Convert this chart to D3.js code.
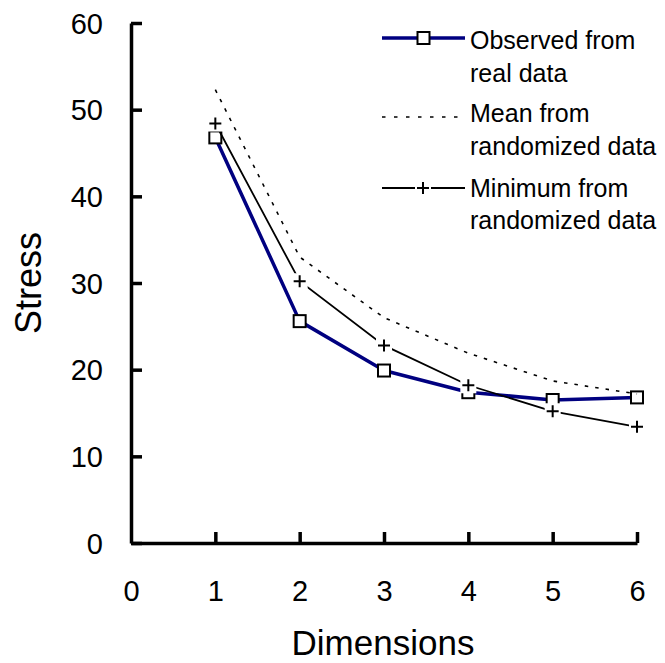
<!DOCTYPE html>
<html>
<head>
<meta charset="utf-8">
<script src="https://cdn.jsdelivr.net/npm/d3@7"></script>
<style>
  html, body { margin: 0; padding: 0; background: #fff; }
  svg { display: block; font-family: "Liberation Sans", Arial, sans-serif; }
</style>
</head>
<body>
<svg id="chart" width="665" height="663"></svg>
<script>
const dimensions = [1, 2, 3, 4, 5, 6];
const observed = [46.8, 25.6, 19.9, 17.4, 16.5, 16.8];
const meanRandom = [52.3, 33.0, 26.0, 21.9, 18.7, 17.2];
const minRandom = [48.4, 30.2, 22.8, 18.2, 15.2, 13.4];
const xTicks = [0, 1, 2, 3, 4, 5, 6];
const yTicks = [0, 10, 20, 30, 40, 50, 60];
const legendLabels = [["Observed from", "real data"], ["Mean from", "randomized data"], ["Minimum from", "randomized data"]];

const svg = d3.select("#chart");
const x = d3.scaleLinear().domain([0, 6]).range([131, 637]);
const y = d3.scaleLinear().domain([0, 60]).range([543, 23]);

// Axes
const yAxis = d3.axisLeft(y).tickValues(yTicks).tickFormat(d3.format("d")).tickSize(-11).tickSizeOuter(0);
const xAxis = d3.axisBottom(x).tickValues(xTicks).tickFormat(d3.format("d")).tickSize(-11).tickSizeOuter(0);

const gy = svg.append("g").attr("transform", `translate(${x(0)},0)`).call(yAxis);
const gx = svg.append("g").attr("transform", `translate(0,${y(0)})`).call(xAxis);
[gx, gy].forEach(g => {
  g.select(".domain").attr("stroke", "#000").attr("stroke-width", 3.5);
  g.selectAll(".tick line").attr("stroke", "#000").attr("stroke-width", 3.5);
  g.selectAll(".tick text").attr("fill", "#000").attr("font-size", 29)
    .attr("font-family", "Liberation Sans, Arial, sans-serif");
});
gy.selectAll(".tick text").attr("x", -28).attr("dy", "0.35em");
gx.selectAll(".tick text").attr("y", 0).attr("dy", 0).attr("transform", "translate(0,58)");
gx.selectAll(".tick").filter(d => d === 0).select("line").remove();

const idx = d3.range(dimensions.length);
const line = arr => d3.line().x(i => x(dimensions[i])).y(i => y(arr[i]))(idx);

// Observed series
svg.append("path").attr("d", line(observed)).attr("fill", "none")
  .attr("stroke", "#000080").attr("stroke-width", 3.5).attr("stroke-linejoin", "round");
svg.selectAll(".sq").data(idx).enter().append("rect")
  .attr("x", i => x(dimensions[i]) - 6).attr("y", i => y(observed[i]) - 6)
  .attr("width", 12).attr("height", 12)
  .attr("fill", "#fff").attr("stroke", "#000").attr("stroke-width", 2);

// Mean series (dotted)
svg.append("path").attr("d", line(meanRandom)).attr("fill", "none")
  .attr("stroke", "#000").attr("stroke-width", 1.6).attr("stroke-dasharray", "3.5,7");

// Minimum series
svg.append("path").attr("d", line(minRandom)).attr("fill", "none")
  .attr("stroke", "#000").attr("stroke-width", 1.8);
const plusG = svg.selectAll(".pl").data(idx).enter().append("g")
  .attr("transform", i => `translate(${x(dimensions[i])},${y(minRandom[i])})`);
plusG.append("rect").attr("x", -8).attr("y", -8).attr("width", 16).attr("height", 16).attr("fill", "#fff");
plusG.append("path").attr("d", "M-6,0H6M0,-6V6").attr("stroke", "#000").attr("stroke-width", 2);

// Axis titles
svg.append("text").attr("x", 383).attr("y", 655).attr("text-anchor", "middle")
  .attr("font-size", 35).attr("fill", "#000").text("Dimensions");
svg.append("text").attr("transform", "translate(41,283) rotate(-90)").attr("text-anchor", "middle")
  .attr("font-size", 36).attr("fill", "#000").text("Stress");

// Legend
const lg = svg.append("g");
const lx0 = 382, lx1 = 465, tx = 470;
// observed
lg.append("line").attr("x1", lx0).attr("x2", lx1).attr("y1", 38).attr("y2", 38)
  .attr("stroke", "#000080").attr("stroke-width", 3.5);
lg.append("rect").attr("x", (lx0 + lx1) / 2 - 6).attr("y", 32).attr("width", 12).attr("height", 12)
  .attr("fill", "#fff").attr("stroke", "#000").attr("stroke-width", 2);
// mean
lg.append("line").attr("x1", lx0).attr("x2", lx1).attr("y1", 117).attr("y2", 117)
  .attr("stroke", "#000").attr("stroke-width", 1.6).attr("stroke-dasharray", "3.5,8.5");
// minimum
lg.append("line").attr("x1", lx0).attr("x2", lx1).attr("y1", 188).attr("y2", 188)
  .attr("stroke", "#000").attr("stroke-width", 1.8);
lg.append("rect").attr("x", 415).attr("y", 180).attr("width", 16).attr("height", 16).attr("fill", "#fff");
lg.append("path").attr("d", "M417,188H429M423,182V194").attr("stroke", "#000").attr("stroke-width", 2);

const baselines = [[49, 82], [122, 155], [197, 229]];
legendLabels.forEach((lab, k) => {
  lab.forEach((t, j) => {
    lg.append("text").attr("x", tx).attr("y", baselines[k][j]).attr("font-size", 25)
      .attr("fill", "#000").text(t);
  });
});
</script>
</body>
</html>
